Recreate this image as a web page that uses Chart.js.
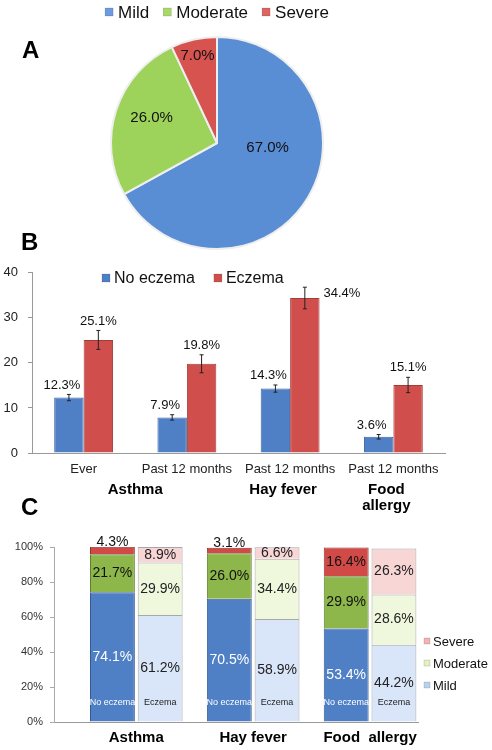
<!DOCTYPE html>
<html>
<head>
<meta charset="utf-8">
<script src="https://cdn.jsdelivr.net/npm/chart.js@4.4.0/dist/chart.umd.min.js"></script>
<style>
body { margin: 0; background: #fff; font-family: "Liberation Sans", Arial, sans-serif; }
#wrap { position: relative; width: 492px; height: 750px; overflow: hidden; }
canvas { position: absolute; left: 0; }
.tag { position: absolute; font-weight: bold; font-size: 24px; line-height: 24px; color: #000; }
</style>
</head>
<body>
<div id="wrap">
	<canvas id="pieA" width="434" height="256" style="top:0"></canvas>
	<canvas id="barB" width="492" height="260" style="top:255px"></canvas>
	<canvas id="barC" width="492" height="240" style="top:510px"></canvas>
	<div class="tag" style="left:22px;top:38px">A</div>
	<div class="tag" style="left:21px;top:230px">B</div>
	<div class="tag" style="left:21px;top:495px">C</div>
</div>
<script>
// Panel A - eczema severity
const severity = ["Mild", "Moderate", "Severe"];
const severityShare = [67.0, 26.0, 7.0];

// Panel B - prevalence (%) with error bars
const outcomes = ["Ever", "Past 12 months", "Past 12 months", "Past 12 months"];
const conditionLines = [["Asthma"], ["Hay fever"], ["Food", "allergy"]];
const conditionFirst = [0, 2, 3];
const conditionLast = [1, 2, 3];
const noEczema = [12.3, 7.9, 14.3, 3.6];
const noEczemaErr = [0.7, 0.6, 0.8, 0.5];
const eczema = [25.1, 19.8, 34.4, 15.1];
const eczemaErr = [2.1, 2.0, 2.4, 1.7];

// Panel C - severity split by eczema status
const conditions = ["Asthma", "Hay fever", "Food  allergy"];
const groupNames = ["No eczema", "Eczema"];
const noEczMild = [74.1, 70.5, 53.4];
const noEczModerate = [21.7, 26.0, 29.9];
const noEczSevere = [4.3, 3.1, 16.4];
const eczMild = [61.2, 58.9, 44.2];
const eczModerate = [29.9, 34.4, 28.6];
const eczSevere = [8.9, 6.6, 26.3];

Chart.defaults.font.family = '"Liberation Sans", Arial, sans-serif';
Chart.defaults.color = "#222";
Chart.defaults.animation = false;

function legendPlugin(id, labels, colors, o) {
	return {
		id: id,
		afterDraw(chart) {
			const ctx = chart.ctx;
			ctx.save();
			ctx.font = o.font;
			ctx.textBaseline = "middle";
			ctx.textAlign = "left";
			let x = o.x;
			let y = o.y;
			if (o.center) {
				let total = 0;
				labels.forEach((t) => { total += o.box + o.gap + ctx.measureText(t).width; });
				total += o.step * (labels.length - 1);
				x = o.x - total / 2;
			}
			labels.forEach((t, i) => {
				ctx.fillStyle = colors[i];
				ctx.fillRect(x, y - o.box / 2, o.box, o.box);
				ctx.strokeStyle = "rgba(0,0,0,0.25)";
				ctx.lineWidth = 0.5;
				ctx.strokeRect(x, y - o.box / 2, o.box, o.box);
				ctx.fillStyle = "#111";
				ctx.fillText(t, x + o.box + o.gap, y + 1);
				if (o.vertical) y += o.step;
				else x += o.box + o.gap + ctx.measureText(t).width + o.step;
			});
			ctx.restore();
		}
	};
}

// ---------- A: pie ----------
const labelRadius = [0.48, 0.66, 0.84];
const angleShift = [-0.43, 0.05, 0];

const pieLabels = {
	id: "pieLabels",
	afterDatasetsDraw(chart) {
		const ctx = chart.ctx;
		ctx.save();
		ctx.font = "15px " + Chart.defaults.font.family;
		ctx.fillStyle = "#111";
		ctx.textAlign = "center";
		ctx.textBaseline = "middle";
		chart.getDatasetMeta(0).data.forEach((arc, i) => {
			const mid = (arc.startAngle + arc.endAngle) / 2 + angleShift[i];
			const r = arc.outerRadius * labelRadius[i];
			ctx.fillText(severityShare[i].toFixed(1) + "%", arc.x + Math.cos(mid) * r, arc.y + Math.sin(mid) * r);
		});
		ctx.restore();
	}
};

new Chart(document.getElementById("pieA"), {
	type: "pie",
	data: {
		labels: severity,
		datasets: [{
			data: severityShare,
			backgroundColor: ["#5a8ed4", "#9dd35a", "#d65350"],
			borderColor: "#eeeeee",
			borderWidth: 2,
			radius: 106
		}]
	},
	options: {
		responsive: false,
		layout: { padding: { top: 37, bottom: 7 } },
		plugins: { legend: { display: false }, tooltip: { enabled: false } }
	},
	plugins: [pieLabels, legendPlugin("legA", severity, ["#6c9be0", "#a9d86a", "#dc6461"],
		{ font: "17px " + Chart.defaults.font.family, x: 217, y: 12, box: 8, gap: 5, step: 14, center: true })]
});

// ---------- B: grouped bars with error bars ----------
const errorBars = {
	id: "errorBars",
	afterDatasetsDraw(chart) {
		const ctx = chart.ctx;
		const y = chart.scales.y;
		ctx.save();
		ctx.font = "13px " + Chart.defaults.font.family;
		ctx.textAlign = "center";
		chart.data.datasets.forEach((ds, i) => {
			chart.getDatasetMeta(i).data.forEach((bar, j) => {
				const v = ds.data[j];
				const top = y.getPixelForValue(v + ds.errors[j]);
				const bottom = y.getPixelForValue(v - ds.errors[j]);
				ctx.strokeStyle = "#222";
				ctx.lineWidth = 1;
				ctx.beginPath();
				ctx.moveTo(bar.x, top); ctx.lineTo(bar.x, bottom);
				ctx.moveTo(bar.x - 2, top); ctx.lineTo(bar.x + 2, top);
				ctx.moveTo(bar.x - 2, bottom); ctx.lineTo(bar.x + 2, bottom);
				ctx.stroke();

				ctx.fillStyle = "#111";
				const txt = v.toFixed(1) + "%";
				if (top - 20 < chart.chartArea.top + 8) {
					// no room above, put it beside the bar
					ctx.textAlign = "left";
					ctx.textBaseline = "middle";
					ctx.fillText(txt, bar.x + bar.width / 2 + 4, y.getPixelForValue(v) - 5);
					ctx.textAlign = "center";
				} else {
					ctx.textBaseline = "bottom";
					ctx.fillText(txt, bar.x + (i === 0 ? -7 : 0), top - 3);
				}
			});
		});
		ctx.restore();
	}
};

const conditionLabels = {
	id: "conditionLabels",
	afterDraw(chart) {
		const ctx = chart.ctx;
		const x = chart.scales.x;
		ctx.save();
		ctx.font = "bold 15px " + Chart.defaults.font.family;
		ctx.fillStyle = "#000";
		ctx.textAlign = "center";
		ctx.textBaseline = "middle";
		conditionLines.forEach((lines, g) => {
			const cx = (x.getPixelForValue(conditionFirst[g]) + x.getPixelForValue(conditionLast[g])) / 2 - (conditionFirst[g] === conditionLast[g] ? 7 : 0);
			lines.forEach((t, k) => ctx.fillText(t, cx, chart.chartArea.bottom + 37 + k * 16));
		});
		ctx.restore();
	}
};

new Chart(document.getElementById("barB"), {
	type: "bar",
	data: {
		labels: outcomes,
		datasets: [
			{ label: "No eczema", data: noEczema, errors: noEczemaErr, backgroundColor: "#4f80c6", borderColor: "#3b65a3", borderWidth: 1 },
			{ label: "Eczema", data: eczema, errors: eczemaErr, backgroundColor: "#d04f4c", borderColor: "#a33b39", borderWidth: 1 }
		]
	},
	options: {
		responsive: false,
		categoryPercentage: 0.57,
		barPercentage: 1.0,
		layout: { padding: { top: 10, right: 47, left: 0, bottom: 0 } },
		plugins: { legend: { display: false }, tooltip: { enabled: false } },
		scales: {
			x: {
				grid: { drawOnChartArea: false, drawTicks: false },
				border: { color: "#999" },
				ticks: { font: { size: 13 }, color: "#222", padding: 9, maxRotation: 0, autoSkip: false },
				afterFit: (s) => { s.height = 62; }
			},
			y: {
				min: 0, max: 40,
				grid: { drawOnChartArea: false, tickLength: 4, color: "#999" },
				border: { color: "#999" },
				ticks: { stepSize: 10, font: { size: 13 }, color: "#222", padding: 10 },
				afterFit: (s) => { s.width = 32; }
			}
		}
	},
	plugins: [errorBars, conditionLabels, legendPlugin("legB", ["No eczema", "Eczema"], ["#4f80c6", "#d04f4c"],
		{ font: "16px " + Chart.defaults.font.family, x: 102, y: 23, box: 8, gap: 4, step: 19 })]
});

// ---------- C: stacked severity bars ----------
const segLabels = {
	id: "segLabels",
	afterDatasetsDraw(chart) {
		const ctx = chart.ctx;
		ctx.save();
		ctx.textAlign = "center";
		ctx.textBaseline = "middle";
		chart.data.datasets.forEach((ds, i) => {
			chart.getDatasetMeta(i).data.forEach((bar, j) => {
				const v = ds.data[j].y;
				const yc = v < 5 ? bar.y - 5 : (bar.y + bar.base) / 2;
				ctx.font = "14px " + Chart.defaults.font.family;
				ctx.fillStyle = ds.labelColor;
				ctx.fillText(v.toFixed(1) + "%", bar.x, yc);
				if (ds.groupName) {
					ctx.font = "9px " + Chart.defaults.font.family;
					ctx.fillText(ds.groupName, bar.x, bar.base - 19);
				}
			});
		});
		ctx.restore();
	}
};

function pts(arr) {
	return arr.map((v, i) => ({ x: i + 1, y: v }));
}

new Chart(document.getElementById("barC"), {
	type: "bar",
	data: {
		datasets: [
			{ label: "Mild", stack: "ne", data: pts(noEczMild), backgroundColor: "#4f80c6", borderColor: "#35598f", borderWidth: 1, labelColor: "#fff", groupName: groupNames[0] },
			{ label: "Moderate", stack: "ne", data: pts(noEczModerate), backgroundColor: "#8db64b", borderColor: "#5e7d2e", borderWidth: 1, labelColor: "#111" },
			{ label: "Severe", stack: "ne", data: pts(noEczSevere), backgroundColor: "#d24a48", borderColor: "#8e3230", borderWidth: 1, labelColor: "#111" },
			{ label: "Mild", stack: "ec", data: pts(eczMild), backgroundColor: "#d9e5f8", borderColor: "#a8a8a8", borderWidth: 1, labelColor: "#222", groupName: groupNames[1] },
			{ label: "Moderate", stack: "ec", data: pts(eczModerate), backgroundColor: "#eff7dd", borderColor: "#a8a8a8", borderWidth: 1, labelColor: "#222" },
			{ label: "Severe", stack: "ec", data: pts(eczSevere), backgroundColor: "#f9d6d6", borderColor: "#a8a8a8", borderWidth: 1, labelColor: "#222" }
		]
	},
	options: {
		responsive: false,
		categoryPercentage: 0.817,
		barPercentage: 0.94,
		layout: { padding: { top: 37, right: 74, left: 0, bottom: 0 } },
		plugins: { legend: { display: false }, tooltip: { enabled: false } },
		scales: {
			x: {
				type: "linear",
				offset: false,
				bounds: "data",
				min: 0.296, max: 3.41,
				grid: { drawOnChartArea: false, drawTicks: false, offset: false },
				border: { color: "#999" },
				afterBuildTicks: (s) => { s.ticks = conditions.map((c, i) => ({ value: i + 1 })); },
				ticks: {
					callback: (v) => conditions[v - 1],
					font: { size: 15, weight: "bold" }, color: "#000", padding: 7, maxRotation: 0, autoSkip: false
				},
				afterFit: (s) => { s.height = 28; }
			},
			y: {
				stacked: true,
				min: 0, max: 100,
				grid: { drawOnChartArea: false, tickLength: 4, color: "#aaa" },
				border: { color: "#aaa" },
				ticks: { stepSize: 20, callback: (v) => v + "%", font: { size: 11 }, color: "#333", padding: 7 },
				afterFit: (s) => { s.width = 54; }
			}
		}
	},
	plugins: [segLabels, legendPlugin("legC", ["Severe", "Moderate", "Mild"], ["#f3b3b3", "#e3f0bf", "#bcd0ee"],
		{ font: "13px " + Chart.defaults.font.family, x: 424, y: 131, box: 6, gap: 3, step: 22, vertical: true })]
});
</script>
</body>
</html>
